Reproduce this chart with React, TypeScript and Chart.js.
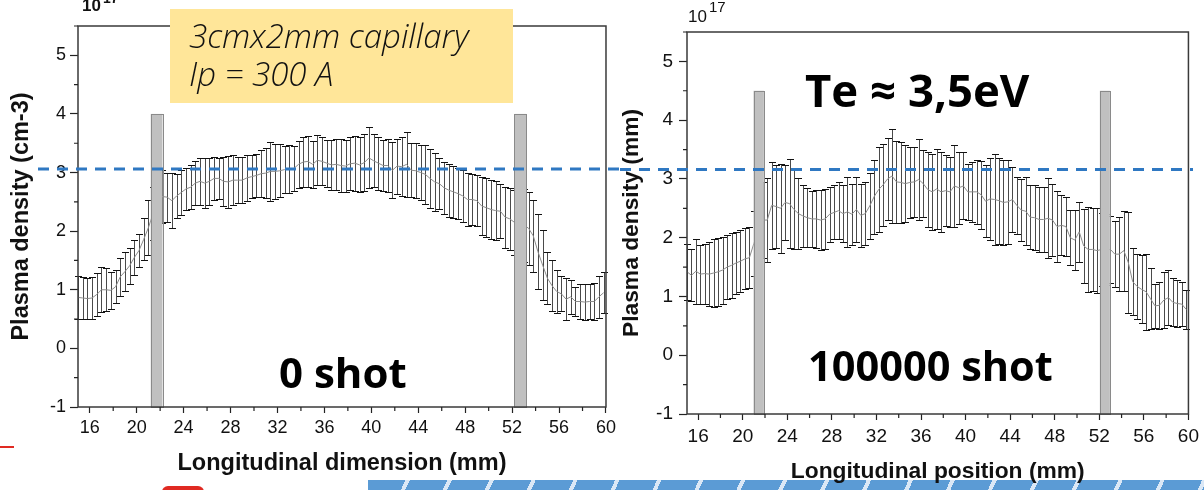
import React, { useEffect, useRef } from 'react';
import { Chart, registerables } from 'chart.js';

Chart.register(...registerables);

// ---------- data ----------
const positions = [
  15.0, 15.4, 15.8, 16.2, 16.6, 17.0, 17.4, 17.8, 18.2, 18.6,
  19.0, 19.4, 19.8, 20.2, 20.6, 21.0, 21.4, 21.8, 22.2, 22.6,
  23.0, 23.4, 23.8, 24.2, 24.6, 25.0, 25.4, 25.8, 26.2, 26.6,
  27.0, 27.4, 27.8, 28.2, 28.6, 29.0, 29.4, 29.8, 30.2, 30.6,
  31.0, 31.4, 31.8, 32.2, 32.6, 33.0, 33.4, 33.8, 34.2, 34.6,
  35.0, 35.4, 35.8, 36.2, 36.6, 37.0, 37.4, 37.8, 38.2, 38.6,
  39.0, 39.4, 39.8, 40.2, 40.6, 41.0, 41.4, 41.8, 42.2, 42.6,
  43.0, 43.4, 43.8, 44.2, 44.6, 45.0, 45.4, 45.8, 46.2, 46.6,
  47.0, 47.4, 47.8, 48.2, 48.6, 49.0, 49.4, 49.8, 50.2, 50.6,
  51.0, 51.4, 51.8, 52.2, 52.6, 53.0, 53.4, 53.8, 54.2, 54.6,
  55.0, 55.4, 55.8, 56.2, 56.6, 57.0, 57.4, 57.8, 58.2, 58.6,
  59.0, 59.4, 59.8,
];

const meanShot0 = [
  0.87, 0.86, 0.85, 0.86, 0.92, 1.00, 1.00, 0.99, 1.05, 1.22,
  1.31, 1.41, 1.55, 1.67, 1.86, 2.06, 2.30, 2.50, 2.59, 2.58,
  2.52, 2.60, 2.66, 2.72, 2.75, 2.82, 2.85, 2.82, 2.85, 2.90,
  2.90, 2.85, 2.84, 2.87, 2.87, 2.87, 2.91, 2.93, 2.95, 2.98,
  2.99, 3.02, 3.02, 3.03, 3.05, 3.06, 3.07, 3.14, 3.18, 3.19,
  3.14, 3.21, 3.19, 3.16, 3.13, 3.14, 3.12, 3.11, 3.15, 3.16,
  3.13, 3.17, 3.25, 3.20, 3.16, 3.12, 3.12, 3.04, 3.11, 3.10,
  3.14, 3.04, 3.03, 3.00, 2.97, 2.90, 2.84, 2.81, 2.74, 2.70,
  2.67, 2.64, 2.60, 2.54, 2.54, 2.52, 2.43, 2.40, 2.37, 2.35,
  2.34, 2.24, 2.21, 2.15, 2.12, 2.10, 2.05, 1.92, 1.65, 1.42,
  1.20, 1.07, 0.97, 0.93, 0.84, 0.88, 0.80, 0.80, 0.79, 0.80,
  0.80, 0.88, 0.95,
];
const errShot0 = [
  0.37, 0.36, 0.35, 0.36, 0.37, 0.38, 0.37, 0.31, 0.28, 0.32,
  0.33, 0.31, 0.30, 0.28, 0.36, 0.47, 0.45, 0.45, 0.45, 0.42,
  0.47, 0.38, 0.38, 0.36, 0.38, 0.38, 0.40, 0.42, 0.40, 0.37,
  0.35, 0.42, 0.44, 0.43, 0.39, 0.39, 0.39, 0.37, 0.37, 0.40,
  0.43, 0.50, 0.47, 0.45, 0.40, 0.41, 0.38, 0.40, 0.42, 0.43,
  0.40, 0.43, 0.41, 0.40, 0.42, 0.44, 0.45, 0.45, 0.45, 0.47,
  0.47, 0.48, 0.52, 0.45, 0.45, 0.43, 0.46, 0.48, 0.47, 0.50,
  0.55, 0.46, 0.47, 0.47, 0.50, 0.50, 0.49, 0.44, 0.44, 0.45,
  0.45, 0.44, 0.44, 0.46, 0.44, 0.44, 0.50, 0.50, 0.51, 0.50,
  0.46, 0.52, 0.53, 0.55, 0.60, 0.62, 0.62, 0.62, 0.64, 0.60,
  0.45, 0.44, 0.37, 0.30, 0.36, 0.29, 0.25, 0.30, 0.31, 0.30,
  0.32, 0.36, 0.35,
];

const meanShot100k = [
  1.42, 1.36, 1.43, 1.38, 1.39, 1.38, 1.40, 1.42, 1.45, 1.50,
  1.53, 1.57, 1.60, 1.64, 1.66, 1.90, 2.10, 2.30, 2.30, 2.55,
  2.53, 2.50, 2.60, 2.58, 2.48, 2.41, 2.37, 2.34, 2.32, 2.32,
  2.30, 2.32, 2.40, 2.43, 2.46, 2.41, 2.44, 2.40, 2.48, 2.38,
  2.41, 2.54, 2.70, 2.82, 2.90, 3.00, 3.05, 2.95, 2.94, 2.92,
  2.94, 2.95, 2.99, 2.92, 2.82, 2.78, 2.83, 2.78, 2.80, 2.78,
  2.88, 2.85, 2.88, 2.78, 2.78, 2.78, 2.73, 2.62, 2.66, 2.65,
  2.63, 2.60, 2.61, 2.65, 2.55, 2.47, 2.45, 2.35, 2.34, 2.31,
  2.31, 2.33, 2.30, 2.19, 2.21, 2.19, 2.00, 1.96, 2.10, 1.86,
  1.80, 1.80, 1.78, 1.80, 1.80, 1.80, 1.72, 1.72, 1.78, 1.58,
  1.25, 1.17, 1.12, 1.08, 0.96, 0.84, 0.85, 0.94, 0.98, 0.90,
  0.88, 0.87, 0.78,
];
const errShot100k = [
  0.48, 0.44, 0.55, 0.50, 0.51, 0.55, 0.58, 0.58, 0.57, 0.55,
  0.55, 0.53, 0.53, 0.52, 0.52, 0.55, 0.60, 0.65, 0.72, 0.74,
  0.70, 0.76, 0.64, 0.76, 0.67, 0.60, 0.53, 0.50, 0.48, 0.50,
  0.51, 0.51, 0.47, 0.46, 0.48, 0.48, 0.60, 0.52, 0.55, 0.54,
  0.54, 0.56, 0.63, 0.73, 0.70, 0.70, 0.80, 0.70, 0.69, 0.65,
  0.60, 0.60, 0.69, 0.57, 0.64, 0.65, 0.68, 0.68, 0.60, 0.60,
  0.70, 0.61, 0.57, 0.48, 0.51, 0.54, 0.58, 0.61, 0.70, 0.78,
  0.73, 0.73, 0.71, 0.55, 0.48, 0.53, 0.58, 0.54, 0.55, 0.55,
  0.55, 0.68, 0.62, 0.60, 0.51, 0.50, 0.47, 0.51, 0.51, 0.63,
  0.72, 0.70, 0.72, 0.62, 0.60, 0.57, 0.56, 0.63, 0.68, 0.86,
  0.57, 0.56, 0.58, 0.65, 0.52, 0.38, 0.40, 0.48, 0.47, 0.41,
  0.40, 0.38, 0.33,
];

// electrode windows (x start, x end) and their top value
const windowsShot0 = [[21.2, 22.2], [52.2, 53.2]];
const windowTopShot0 = 4.0;
const windowsShot100k = [[20.97, 21.9], [52.05, 52.95]];
const windowTopShot100k = 4.5;

// reference density level (dashed line)
const refLevelShot0 = 3.06;
const refLevelShot100k = 3.16;

const xTickValues = [16, 18, 20, 22, 24, 26, 28, 30, 32, 34, 36, 38, 40, 42, 44, 46, 48, 50, 52, 54, 56, 58, 60];
const xLabelValues = [16, 20, 24, 28, 32, 36, 40, 44, 48, 52, 56, 60];
const yTickValues = [-1, -0.5, 0, 0.5, 1, 1.5, 2, 2.5, 3, 3.5, 4, 4.5, 5, 5.5];
const yLabelValues = [-1, 0, 1, 2, 3, 4, 5];

const SANS = '"Liberation Sans", Arial, sans-serif';
const BIG = '"Open Sans", "Noto Sans", sans-serif';

type Panel = {
  width: number;
  mean: number[];
  err: number[];
  windows: number[][];
  windowTop: number;
  refLevel: number;
  dashFrom: number;
  dashTo: number;
  yTitle: string;
  xTitle: string;
  titleSize: number;
  padTop: number;
  padRight: number;
  yAxisWidth: number;
  xAxisHeight: number;
  yTitlePad: number;
  xTitlePad: number;
  yTickPad: number;
  xTickPad: number;
  tickSize: number;
  exp: { x: number; base: number; supBase: number; bold: boolean; size: number; supSize: number };
  draw: (ctx: CanvasRenderingContext2D) => void;
};

function makePlugin(p: Panel) {
  return {
    id: 'panelDecor',
    beforeDatasetsDraw(chart: any) {
      const { ctx } = chart;
      const xs = chart.scales.x;
      const ys = chart.scales.y;
      ctx.save();
      ctx.lineWidth = 1;
      positions.forEach((pos, i) => {
        const px = Math.round(xs.getPixelForValue(pos)) + 0.5;
        const yt = Math.round(ys.getPixelForValue(p.mean[i] + p.err[i])) + 0.5;
        const yb = Math.round(ys.getPixelForValue(p.mean[i] - p.err[i])) + 0.5;
        ctx.strokeStyle = '#4a4a4a';
        ctx.beginPath();
        ctx.moveTo(px, yt);
        ctx.lineTo(px, yb);
        ctx.stroke();
        ctx.strokeStyle = '#111';
        ctx.beginPath();
        ctx.moveTo(px - 3.5, yt);
        ctx.lineTo(px + 3.5, yt);
        ctx.moveTo(px - 3.5, yb);
        ctx.lineTo(px + 3.5, yb);
        ctx.stroke();
      });
      ctx.restore();
    },
    afterDatasetsDraw(chart: any) {
      const { ctx } = chart;
      const xs = chart.scales.x;
      const ys = chart.scales.y;
      ctx.save();
      p.windows.forEach(([a, b]) => {
        const x0 = xs.getPixelForValue(a);
        const x1 = xs.getPixelForValue(b);
        const y0 = ys.getPixelForValue(p.windowTop);
        const y1 = ys.getPixelForValue(-1);
        ctx.fillStyle = '#c0c0c0';
        ctx.fillRect(x0, y0, x1 - x0, y1 - y0);
        ctx.strokeStyle = '#8a8a8a';
        ctx.lineWidth = 1;
        ctx.strokeRect(Math.round(x0) + 0.5, Math.round(y0) + 0.5, Math.round(x1 - x0), Math.round(y1 - y0));
      });
      ctx.restore();
    },
    afterDraw(chart: any) {
      const { ctx, chartArea } = chart;
      const xs = chart.scales.x;
      const ys = chart.scales.y;
      ctx.save();
      // frame
      ctx.strokeStyle = '#3a3a3a';
      ctx.lineWidth = 1.5;
      ctx.strokeRect(chartArea.left, chartArea.top, chartArea.right - chartArea.left, chartArea.bottom - chartArea.top);
      // minor ticks
      ctx.strokeStyle = '#222';
      ctx.lineWidth = 1.2;
      ctx.beginPath();
      xTickValues.filter((v) => !xLabelValues.includes(v)).forEach((v) => {
        const px = xs.getPixelForValue(v);
        ctx.moveTo(px, chartArea.bottom);
        ctx.lineTo(px, chartArea.bottom + 4);
      });
      yTickValues.filter((v) => !yLabelValues.includes(v)).forEach((v) => {
        const py = ys.getPixelForValue(v);
        ctx.moveTo(chartArea.left, py);
        ctx.lineTo(chartArea.left - 4, py);
      });
      ctx.stroke();
      // exponent label
      ctx.fillStyle = '#111';
      ctx.textBaseline = 'alphabetic';
      ctx.textAlign = 'left';
      ctx.font = `${p.exp.bold ? 'bold ' : ''}${p.exp.size}px ${SANS}`;
      ctx.fillText('10', p.exp.x, p.exp.base);
      const w = ctx.measureText('10').width;
      ctx.font = `${p.exp.bold ? 'bold ' : ''}${p.exp.supSize}px ${SANS}`;
      ctx.fillText('17', p.exp.x + w + 2, p.exp.supBase);
      // annotations
      p.draw(ctx);
      // dashed reference line
      const ry = ys.getPixelForValue(p.refLevel);
      ctx.strokeStyle = '#2f78c2';
      ctx.lineWidth = 3;
      ctx.setLineDash([11, 8]);
      ctx.beginPath();
      ctx.moveTo(p.dashFrom, ry);
      ctx.lineTo(p.dashTo, ry);
      ctx.stroke();
      ctx.restore();
    },
  };
}

function makeConfig(p: Panel): any {
  return {
    type: 'line',
    data: {
      datasets: [
        {
          data: positions.map((x, i) => ({ x, y: p.mean[i] })),
          borderColor: '#8c8c8c',
          borderWidth: 1,
          pointRadius: 0,
          tension: 0,
          fill: false,
        },
      ],
    },
    options: {
      responsive: false,
      animation: false,
      events: [],
      layout: { padding: { left: 0, right: p.padRight, top: p.padTop, bottom: 0 } },
      plugins: { legend: { display: false }, tooltip: { enabled: false }, title: { display: false } },
      scales: {
        x: {
          type: 'linear',
          min: 15,
          max: 60,
          afterBuildTicks: (s: any) => {
            s.ticks = xTickValues.map((v) => ({ value: v }));
          },
          afterFit: (s: any) => {
            s.height = p.xAxisHeight;
          },
          ticks: {
            autoSkip: false,
            maxRotation: 0,
            minRotation: 0,
            padding: p.xTickPad,
            color: '#111',
            font: { family: SANS, size: p.tickSize },
            callback: (v: number) => (xLabelValues.includes(v) ? String(v) : ''),
          },
          grid: {
            drawOnChartArea: false,
            tickLength: 6,
            tickWidth: 1.2,
            tickColor: (c: any) => (c.tick && xLabelValues.includes(c.tick.value) ? '#222' : 'rgba(0,0,0,0)'),
          },
          border: { display: false },
          title: {
            display: true,
            text: p.xTitle,
            color: '#111',
            font: { family: SANS, size: p.titleSize, weight: 'bold', lineHeight: 1 },
            padding: { top: 0, bottom: p.xTitlePad },
          },
        },
        y: {
          type: 'linear',
          min: -1,
          max: 5.5,
          afterBuildTicks: (s: any) => {
            s.ticks = yTickValues.map((v) => ({ value: v }));
          },
          afterFit: (s: any) => {
            s.width = p.yAxisWidth;
          },
          ticks: {
            autoSkip: false,
            padding: p.yTickPad,
            color: '#111',
            font: { family: SANS, size: p.tickSize },
            callback: (v: number) => (yLabelValues.includes(v) ? String(v) : ''),
          },
          grid: {
            drawOnChartArea: false,
            tickLength: 8,
            tickWidth: 1.2,
            tickColor: (c: any) => (c.tick && yLabelValues.includes(c.tick.value) ? '#222' : 'rgba(0,0,0,0)'),
          },
          border: { display: false },
          title: {
            display: true,
            text: p.yTitle,
            color: '#111',
            font: { family: SANS, size: p.titleSize, weight: 'bold', lineHeight: 1 },
            padding: { top: p.yTitlePad, bottom: 0 },
          },
        },
      },
    },
    plugins: [makePlugin(p)],
  };
}

const panelShot0: Panel = {
  width: 620,
  mean: meanShot0,
  err: errShot0,
  windows: windowsShot0,
  windowTop: windowTopShot0,
  refLevel: refLevelShot0,
  dashFrom: 38,
  dashTo: 620,
  yTitle: 'Plasma density (cm-3)',
  xTitle: 'Longitudinal dimension (mm)',
  titleSize: 23.5,
  padTop: 26,
  padRight: 12,
  yAxisWidth: 78,
  xAxisHeight: 83,
  yTitlePad: 10.25,
  xTitlePad: 14.25,
  yTickPad: 4,
  xTickPad: 4,
  tickSize: 18,
  exp: { x: 82, base: 11, supBase: 3, bold: true, size: 17, supSize: 14 },
  draw: (ctx) => {
    ctx.fillStyle = '#ffe699';
    ctx.fillRect(170, 9, 343, 94);
    ctx.fillStyle = '#111';
    ctx.font = `italic 300 33px ${BIG}`;
    ctx.fillText('3cmx2mm capillary', 189, 48);
    ctx.fillText('Ip = 300 A', 189, 86);
    ctx.fillStyle = '#000';
    ctx.font = `bold 42px ${BIG}`;
    ctx.fillText('0 shot', 279, 388);
  },
};

const panelShot100k: Panel = {
  width: 584,
  mean: meanShot100k,
  err: errShot100k,
  windows: windowsShot100k,
  windowTop: windowTopShot100k,
  refLevel: refLevelShot100k,
  dashFrom: 0,
  dashTo: 573,
  yTitle: 'Plasma density (mm)',
  xTitle: 'Longitudinal position (mm)',
  titleSize: 22.8,
  padTop: 32,
  padRight: 8,
  yAxisWidth: 67,
  xAxisHeight: 76,
  yTitlePad: 0,
  xTitlePad: 6.6,
  yTickPad: 6,
  xTickPad: 5,
  tickSize: 19,
  exp: { x: 68, base: 22, supBase: 12, bold: false, size: 17, supSize: 15 },
  draw: (ctx) => {
    ctx.fillStyle = '#000';
    ctx.font = `bold 45.5px ${BIG}`;
    ctx.fillText('Te \u2248 3,5eV', 185, 107);
    ctx.font = `bold 41.5px ${BIG}`;
    ctx.fillText('100000 shot', 188, 381);
  },
};

function PanelChart({ panel, left }: { panel: Panel; left: number }) {
  const ref = useRef<HTMLCanvasElement | null>(null);
  useEffect(() => {
    if (!ref.current) return;
    const chart = new Chart(ref.current, makeConfig(panel));
    return () => chart.destroy();
  }, [panel]);
  return (
    <canvas
      ref={ref}
      width={panel.width}
      height={490}
      style={{ position: 'absolute', left, top: 0, width: panel.width, height: 490 }}
    />
  );
}

export default function App() {
  return (
    <div style={{ position: 'absolute', left: 0, top: 0, width: 1204, height: 490, overflow: 'hidden', background: '#fff' }}>
      <div
        style={{
          position: 'absolute',
          left: 368,
          top: 480,
          width: 836,
          height: 10,
          background: 'repeating-linear-gradient(115deg, #5b9bd5 0px, #5b9bd5 34px, #dbe8f6 34px, #dbe8f6 38px)',
        }}
      />
      <div style={{ position: 'absolute', left: 0, top: 446, width: 14, height: 2, background: '#e02a22' }} />
      <div style={{ position: 'absolute', left: 162, top: 486, width: 42, height: 6, borderRadius: '20px 20px 0 0', background: '#e02a22' }} />
      <PanelChart panel={panelShot0} left={0} />
      <PanelChart panel={panelShot100k} left={620} />
    </div>
  );
}
